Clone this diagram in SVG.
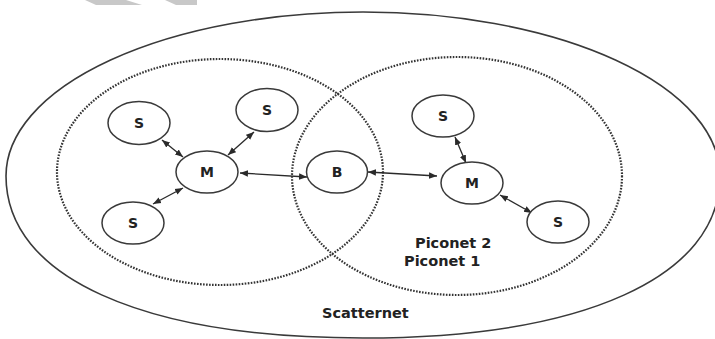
<svg xmlns="http://www.w3.org/2000/svg" width="715" height="339" viewBox="0 0 715 339">
  <style>
    .bg { fill: #ffffff; }
    .outer { fill: none; stroke: #3a3a3a; stroke-width: 1.6; }
    .piconet { fill: none; stroke: #333333; stroke-width: 2.2; stroke-dasharray: 1.6 1.4; }
    .node ellipse { fill: #ffffff; stroke: #3a3a3a; stroke-width: 1.5; }
    .node text { font-family: "DejaVu Sans", Verdana, sans-serif; font-weight: bold; font-size: 14px; fill: #222; text-anchor: middle; }
    .label { font-family: "DejaVu Sans", Verdana, sans-serif; font-weight: bold; font-size: 14.5px; fill: #222; }
    .link { stroke: #2a2a2a; stroke-width: 1.3; fill: none; marker-start: url(#head); marker-end: url(#head); }
    .mark { fill: #c8c8c8; }
  </style>
  <defs>
    <marker id="head" viewBox="0 0 10 10" refX="10" refY="5" markerWidth="8" markerHeight="8" markerUnits="userSpaceOnUse" orient="auto-start-reverse">
      <path d="M0,1 L10,5 L0,9 Z" fill="#2a2a2a"/>
    </marker>
  </defs>

  <rect class="bg" x="0" y="0" width="715" height="339"/>

  <!-- faint grey bars along the top edge -->
  <polygon class="mark" points="85,0 126,0 142,5 96,5"/>
  <polygon class="mark" points="165,0 197,0 197,5 176,5"/>

  <!-- scatternet boundary: elliptical top, slightly fuller bottom -->
  <path id="scatternet" class="outer" d="M6,176 A357,164 0 0 1 720,176 C720,277 584,338 363,338 C142,338 6,277 6,176 Z"/>

  <!-- piconet boundaries -->
  <ellipse id="piconet1" class="piconet" cx="220" cy="172" rx="163" ry="113"/>
  <ellipse id="piconet2" class="piconet" cx="457" cy="176" rx="165" ry="119"/>

  <!-- connectors -->
  <g id="connectors">
    <line class="link" x1="162" y1="140" x2="183" y2="157"/>
    <line class="link" x1="254" y1="132" x2="228" y2="155"/>
    <line class="link" x1="153" y1="204" x2="183" y2="188"/>
    <line class="link" x1="240" y1="173" x2="307" y2="177"/>
    <line class="link" x1="368" y1="172" x2="437" y2="176"/>
    <line class="link" x1="455" y1="137" x2="466" y2="163"/>
    <line class="link" x1="500" y1="195" x2="532" y2="213"/>
  </g>

  <!-- piconet 1 -->
  <g id="p1-slave-a" class="node">
    <ellipse cx="139" cy="123" rx="31" ry="21.5"/>
    <text x="139" y="128">S</text>
  </g>
  <g id="p1-slave-b" class="node">
    <ellipse cx="267" cy="110" rx="31" ry="21.5"/>
    <text x="267" y="115">S</text>
  </g>
  <g id="p1-master" class="node">
    <ellipse cx="207" cy="172" rx="31" ry="21"/>
    <text x="207" y="177">M</text>
  </g>
  <g id="p1-slave-c" class="node">
    <ellipse cx="133" cy="223" rx="31" ry="21"/>
    <text x="133" y="228">S</text>
  </g>

  <!-- bridge node -->
  <g id="bridge" class="node">
    <ellipse cx="337" cy="172" rx="30.5" ry="21"/>
    <text x="337" y="177">B</text>
  </g>

  <!-- piconet 2 -->
  <g id="p2-slave-a" class="node">
    <ellipse cx="443" cy="116" rx="31" ry="21"/>
    <text x="443" y="121">S</text>
  </g>
  <g id="p2-master" class="node">
    <ellipse cx="472" cy="183" rx="31" ry="21"/>
    <text x="472" y="188">M</text>
  </g>
  <g id="p2-slave-b" class="node">
    <ellipse cx="558" cy="222" rx="31" ry="21"/>
    <text x="558" y="227">S</text>
  </g>

  <!-- labels -->
  <text class="label" x="415" y="248">Piconet 2</text>
  <text class="label" x="404" y="266">Piconet 1</text>
  <text class="label" x="322" y="318">Scatternet</text>
</svg>
